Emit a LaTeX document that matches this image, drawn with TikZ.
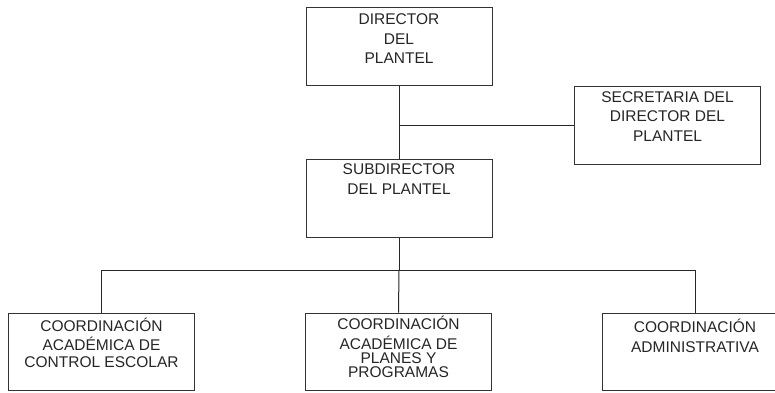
\documentclass[tikz,border=0pt]{standalone}
\usepackage{fontspec}
\setmainfont{Liberation Sans}
\usetikzlibrary{positioning}

\begin{document}
\begin{tikzpicture}[x=1pt, y=-1pt,
  cargo/.style={draw=black!80, line width=1pt, minimum width=186pt, minimum height=78pt, inner sep=0pt},
  rotulo/.style={align=center, inner sep=0pt, text=black!85,
    font=\fontsize{15.5}{19.5}\selectfont, execute at begin node=\strut},
  linea/.style={draw=black!85, line width=1pt}]
\useasboundingbox (0,0) rectangle (775,392);
\clip (0,0) rectangle (775,392);

% cajas
\node[cargo] (dir) at (399, 46.5) {};
\node[cargo] (sec) at (667.5, 125) {};
\node[cargo] (sub) at (399, 198.5) {};
\node[cargo, minimum height=77pt] (ctrl) at (101.5, 351.5) {};
\node[cargo, minimum height=77pt] (plan) at (398.5, 351.5) {};
% la caja de la derecha sale del margen
\node[cargo, minimum height=77pt, minimum width=220pt] (admin) at (712, 351.5) {};

% textos
\node[rotulo, below=6.7pt of dir.north] (dirtxt) {DIRECTOR\\DEL\\PLANTEL};
\node[rotulo, below=5.7pt of sec.north] (sectxt) {SECRETARIA DEL\\DIRECTOR DEL\\PLANTEL};
\node[rotulo, below=4.7pt of sub.north] (subtxt) {SUBDIRECTOR\\DEL PLANTEL};
\node[rotulo, below=5.7pt of ctrl.north] (ctrltxt) {COORDINACIÓN\\[-1pt]ACADÉMICA DE\\[-2pt]CONTROL ESCOLAR};
\node[rotulo, below=3.7pt of plan.north] (plantxt) {COORDINACIÓN\\ACADÉMICA DE\\[-5.5pt]PLANES Y\\[-5.5pt]PROGRAMAS};
\node[rotulo, below=6.7pt of admin.north, xshift=-17pt] (admintxt) {COORDINACIÓN\\ADMINISTRATIVA};

% lineas
\coordinate (cruce) at (dir.south |- sec.west);
\coordinate (barra) at ([yshift=-32pt]sub.south);
\draw[linea] (dir.south) -- (sub.north);
\draw[linea] (cruce) -- (sec.west);
\draw[linea] (sub.south) -- (barra);
\draw[linea] (ctrl.north) |- (barra) -| ([xshift=-17pt]admin.north);
\draw[linea] (barra) -- (plan.north);
\end{tikzpicture}
\end{document}
